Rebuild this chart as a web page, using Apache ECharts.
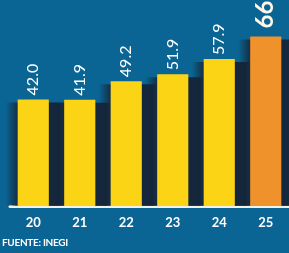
<!DOCTYPE html>
<html>
<head>
<meta charset="utf-8">
<script src="https://cdn.jsdelivr.net/npm/echarts@6/dist/echarts.min.js"></script>
<style>
  html, body { margin: 0; padding: 0; background: #0a6594; }
  #chart { width: 289px; height: 253px; }
  .fuente { position: absolute; left: 2px; top: 236px; color: #fff; font: bold 10px Lato, sans-serif; letter-spacing: -0.3px; }
</style>
</head>
<body>
<div id="chart"></div>
<div class="fuente">FUENTE: INEGI</div>
<script>
// años (20xx) y valores
var years = ['20', '21', '22', '23', '24', '25'];
var values = [42.0, 41.9, 49.2, 51.9, 57.9, 66.8];
var labels = ['42.0', '41.9', '49.2', '51.9', '57.9', '66'];

var yellow = '#fcd416',
    orange = '#ef922b',
    shade = 'rgba(22,32,50,';

var chart = echarts.init(document.getElementById('chart'));

var seriesData = values.map(function (v, i) {
    var last = i == values.length - 1;
    return {
        value: v,
        itemStyle: { color: last ? orange : yellow },
        label: last ? { fontSize: 24, fontWeight: 'bold', color: '#fff6e6', distance: 8 } : {}
    };
});

// sombra oscura detrás de cada barra
function renderShadow(params, api) {
    var top = api.coord([api.value(0), api.value(1)]),
        base = api.coord([api.value(0), 0]),
        w = api.size([1, 0])[0] * 0.67,
        x = top[0] - w / 2 - 12,
        width = w + 29;
    return {
        type: 'rect',
        shape: { x: x, y: top[1] + 3, width: width, height: base[1] - top[1] - 3 },
        style: {
            fill: new echarts.graphic.LinearGradient(0, 0, 1, 0, [
                { offset: 0, color: shade + '0)' },
                { offset: 0.2, color: shade + '0.8)' },
                { offset: 0.75, color: shade + '0.9)' },
                { offset: 0.9, color: shade + '0.85)' },
                { offset: 1, color: shade + '0)' }
            ])
        }
    };
}

chart.setOption({
    backgroundColor: '#0a6594',
    animation: false,
    grid: { left: 10, right: 0, top: 3, bottom: 47 },
    xAxis: {
        type: 'category',
        data: years,
        axisLine: { lineStyle: { color: '#f4f1ea', width: 3 } },
        axisTick: { show: false },
        axisLabel: { color: '#fff', fontSize: 13, fontWeight: 'bold', fontFamily: 'Lato', margin: 10 }
    },
    yAxis: {
        type: 'value',
        min: 0,
        max: 80,
        show: false,
        splitLine: { show: false }
    },
    series: [{
        type: 'custom',
        z: 1,
        renderItem: renderShadow,
        data: values.map(function (v, i) { return [i, v]; })
    }, {
        type: 'bar',
        z: 2,
        data: seriesData,
        barCategoryGap: '33%',
        label: {
            show: true,
            position: 'top',
            rotate: 90,
            align: 'left',
            verticalAlign: 'middle',
            distance: 4,
            color: '#fff',
            fontSize: 16,
            fontFamily: 'Lato',
            formatter: function (p) { return labels[p.dataIndex]; }
        }
    }]
});
</script>
</body>
</html>
